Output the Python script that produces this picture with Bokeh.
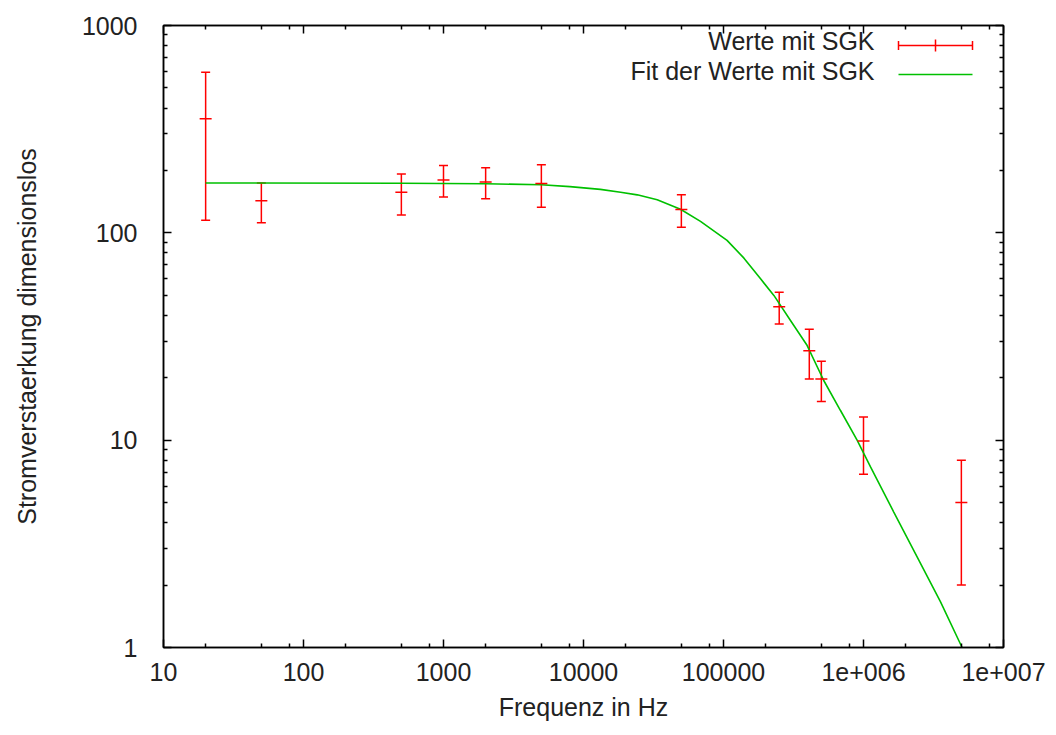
from bokeh.plotting import figure
from bokeh.models import (ColumnDataSource, Whisker, TeeHead, FixedTicker, LogAxis,
                          Label, Arrow)
from bokeh.embed import file_html
from bokeh.resources import INLINE

# ---------------- data ----------------
freq = [20, 50, 500, 1000, 2000, 5000, 50000, 250000, 410000, 500000, 1000000, 5000000]
gain = [355, 143, 157, 180, 176, 173, 129.5, 44, 27, 19.7, 9.9, 5.0]
gain_err = [240, 31, 35, 31, 30, 40, 23, 7.7, 7.3, 4.35, 3.05, 3.0]

fit_freq = [20, 500, 2000, 5000, 8000, 13200, 18400, 24200, 33600, 49300, 68500,
            106000, 140000, 184000, 229000, 301000, 396000, 520000, 685000, 900000,
            1120000, 1250000, 1645000, 2420000, 3550000, 5060000]
fit_gain = [174, 173.5, 172.5, 170.5, 167, 162, 157, 152.5, 144.5, 130, 113.5,
            92, 75.5, 60, 49.9, 37.8, 28.6, 19.4, 13.9, 10.0,
            7.45, 6.46, 4.5, 2.73, 1.66, 1.0]

x_ticks = [10, 100, 1000, 10000, 100000, 1000000, 10000000]
x_tick_labels = ["10", "100", "1000", "10000", "100000", "1e+006", "1e+007"]
y_ticks = [1, 10, 100, 1000]
y_tick_labels = ["1", "10", "100", "1000"]
x_minor_mult = [2, 5, 8]
y_minor_mult = [2, 3, 4, 5, 6, 7, 8, 9]

series_labels = ["Werte mit SGK", "Fit der Werte mit SGK"]
x_title = "Frequenz in Hz"
y_title = "Stromverstaerkung dimensionslos"

# ---------------- styles ----------------
FONT = "Liberation Sans"
FS = "25px"
RED = "#ff0000"
GREEN = "#00c000"
TXT = "#222222"

src = ColumnDataSource(dict(
    x=freq, y=gain,
    upper=[g + e for g, e in zip(gain, gain_err)],
    lower=[g - e for g, e in zip(gain, gain_err)],
))
fit_src = ColumnDataSource(dict(x=fit_freq, y=fit_gain))

p = figure(width=1048, height=727, x_axis_type="log", y_axis_type="log",
           x_range=(10, 1e7), y_range=(1, 1000),
           output_backend="svg", toolbar_location=None,
           min_border_left=163, min_border_right=45,
           min_border_top=25, min_border_bottom=80)
p.grid.visible = False
p.outline_line_color = "black"
p.outline_line_width = 1.5
p.background_fill_color = "white"
p.border_fill_color = "white"

x_minor = [m * 10 ** e for e in range(1, 7) for m in x_minor_mult]
y_minor = [m * 10 ** e for e in range(0, 3) for m in y_minor_mult]
xticker = FixedTicker(ticks=x_ticks, minor_ticks=x_minor)
yticker = FixedTicker(ticks=y_ticks, minor_ticks=y_minor)


def style_axis(ax, labels=True):
    ax.axis_line_color = "black"
    ax.axis_line_width = 1.5
    ax.major_tick_in = 8
    ax.major_tick_out = 0
    ax.minor_tick_in = 4
    ax.minor_tick_out = 0
    ax.major_tick_line_color = "black"
    ax.minor_tick_line_color = "black"
    ax.major_tick_line_width = 1.5
    ax.minor_tick_line_width = 1.5
    ax.major_label_text_font = FONT
    ax.major_label_text_color = TXT
    ax.axis_label_text_font = FONT
    ax.axis_label_text_font_size = FS
    ax.axis_label_text_font_style = "normal"
    ax.axis_label_text_color = TXT
    if labels:
        ax.major_label_text_font_size = FS
    else:
        ax.major_label_text_font_size = "1px"
        ax.major_label_text_alpha = 0
        ax.major_label_standoff = 0


xa = p.xaxis[0]
ya = p.yaxis[0]
xa.ticker = xticker
ya.ticker = yticker
style_axis(xa)
style_axis(ya)
xa.major_label_overrides = {t: s for t, s in zip(x_ticks, x_tick_labels)}
ya.major_label_overrides = {t: s for t, s in zip(y_ticks, y_tick_labels)}
xa.major_label_standoff = 15
ya.major_label_standoff = 26
xa.axis_label = x_title
ya.axis_label = y_title
xa.axis_label_standoff = 9
ya.axis_label_standoff = 38

top = LogAxis(ticker=xticker)
style_axis(top, labels=False)
p.add_layout(top, "above")
right = LogAxis(ticker=yticker)
style_axis(right, labels=False)
p.add_layout(right, "right")

# ---------------- marks ----------------
p.line("x", "y", source=fit_src, line_color=GREEN, line_width=1.6)

wh = Whisker(base="x", upper="upper", lower="lower", source=src, dimension="height",
             line_color=RED, line_width=1.5,
             upper_head=TeeHead(size=9, line_color=RED, line_width=1.5),
             lower_head=TeeHead(size=9, line_color=RED, line_width=1.5))
p.add_layout(wh)
p.scatter("x", "y", source=src, marker="dash", size=12, line_color=RED, line_width=1.5)

# ---------------- legend (gnuplot style: text, then sample) ----------------
p.add_layout(Label(x=711, y=607, x_units="screen", y_units="screen",
                   text=series_labels[0], text_align="right", text_baseline="middle",
                   text_font=FONT, text_font_size=FS, text_color=TXT))
p.add_layout(Label(x=711, y=577, x_units="screen", y_units="screen",
                   text=series_labels[1], text_align="right", text_baseline="middle",
                   text_font=FONT, text_font_size=FS, text_color=TXT))
p.add_layout(Arrow(x_start=735, y_start=602, x_end=809, y_end=602,
                   start_units="screen", end_units="screen",
                   line_color=RED, line_width=1.5,
                   start=TeeHead(size=9, line_color=RED, line_width=1.5),
                   end=TeeHead(size=9, line_color=RED, line_width=1.5)))
p.add_layout(Arrow(x_start=772, y_start=596, x_end=772, y_end=608,
                   start_units="screen", end_units="screen",
                   line_color=RED, line_width=1.5, end=None))
p.add_layout(Arrow(x_start=735, y_start=573, x_end=809, y_end=573,
                   start_units="screen", end_units="screen",
                   line_color=GREEN, line_width=1.6, end=None))

open("out.html", "w").write(file_html(p, INLINE))
